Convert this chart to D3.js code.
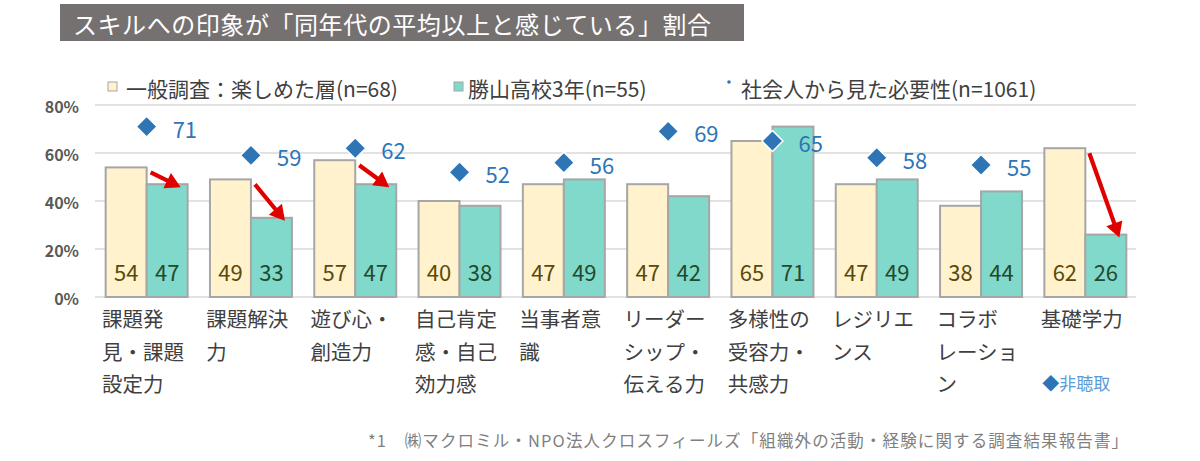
<!DOCTYPE html>
<html><head><meta charset="utf-8">
<script src="https://cdn.jsdelivr.net/npm/d3@7"></script>
<style>
html,body{margin:0;padding:0;background:#fff;}
svg{display:block;}
text{font-family:"Noto Sans CJK JP","Noto Sans",sans-serif;}
</style></head>
<body>
<script>
// ---- data ----
const title = "スキルへの印象が「同年代の平均以上と感じている」割合";
const categories = ["課題発見・課題設定力","課題解決力","遊び心・創造力","自己肯定感・自己効力感","当事者意識","リーダーシップ・伝える力","多様性の受容力・共感力","レジリエンス","コラボレーション","基礎学力"];
const categoryLines = [["課題発","見・課題","設定力"],["課題解決","力"],["遊び心・","創造力"],["自己肯定","感・自己","効力感"],["当事者意","識"],["リーダー","シップ・","伝える力"],["多様性の","受容力・","共感力"],["レジリエ","ンス"],["コラボ","レーショ","ン"],["基礎学力"]];
const generalValues = [54,49,57,40,47,47,65,47,38,62];
const katsuyamaValues = [47,33,47,38,49,42,71,49,44,26];
const needValues = [71,59,62,52,56,69,65,58,55,null];
const arrowCategories = ["課題発見・課題設定力","課題解決力","遊び心・創造力","基礎学力"];
const yTicks = [0,20,40,60,80];
const seriesNames = ["一般調査：楽しめた層(n=68)","勝山高校3年(n=55)","社会人から見た必要性(n=1061)"];
const noAnswerNote = "非聴取";
const footnote = "*1　㈱マクロミル・NPO法人クロスフィールズ「組織外の活動・経験に関する調査結果報告書」";

// ---- styles ----
const C = {yellow:"#FFF2CC", teal:"#80D9CA", barStroke:"#A6A6A6", grid:"#D9D9D9", blue:"#2E75B6",
  lightBlue:"#5B9BD5", red:"#E00000", yLab:"#5A4A0A", tLab:"#24492C", axisText:"#595959", text:"#404040"};

const W=1200,H=461;
const svg=d3.select("body").append("svg").attr("width",W).attr("height",H);

// title
svg.append("rect").attr("x",60).attr("y",4).attr("width",684).attr("height",37).attr("fill","#767171");
svg.append("text").attr("x",73).attr("y",23).attr("dominant-baseline","central")
  .attr("fill","#fff").attr("font-size",24).attr("textLength",638).attr("lengthAdjust","spacing").text(title);

// scales
const y=d3.scaleLinear().domain([0,80]).range([297,105]);
const x=d3.scaleBand().domain(categories).range([94.5,1137.5]).padding(0);
const step=x.bandwidth();
const barW=step*0.393;
const off=(step-2*barW)/2;

// grid
const g=svg.append("g");
g.selectAll("line.grid").data(yTicks).join("line").attr("class","grid")
  .attr("x1",95).attr("x2",1136).attr("y1",d=>y(d)).attr("y2",d=>y(d))
  .attr("stroke",C.grid).attr("stroke-width",1.6);
g.selectAll("text.ytick").data(yTicks).join("text").attr("class","ytick")
  .attr("x",79).attr("y",d=>y(d)+1).attr("text-anchor","end").attr("dominant-baseline","central")
  .attr("font-size",16).attr("font-weight","bold").attr("fill",C.axisText).text(d=>d+"%");

// legend
const lg=svg.append("g");
lg.append("rect").attr("x",108).attr("y",82).attr("width",9).attr("height",9).attr("fill",C.yellow).attr("stroke",C.barStroke).attr("stroke-width",1);
lg.append("text").attr("x",126).attr("y",88).attr("dominant-baseline","central").attr("font-size",21).attr("fill",C.text).text(seriesNames[0]);
lg.append("rect").attr("x",454).attr("y",82).attr("width",9).attr("height",9).attr("fill",C.teal).attr("stroke",C.barStroke).attr("stroke-width",1);
lg.append("text").attr("x",468).attr("y",88).attr("dominant-baseline","central").attr("font-size",21).attr("fill",C.text).text(seriesNames[1]);
lg.append("circle").attr("cx",729).attr("cy",82).attr("r",1.8).attr("fill",C.blue);
lg.append("text").attr("x",741).attr("y",88).attr("dominant-baseline","central").attr("font-size",21).attr("fill",C.text).text(seriesNames[2]);

// bars
const rows=categories.map((c,i)=>({c,i,a:generalValues[i],b:katsuyamaValues[i],n:needValues[i]}));
const bg=svg.append("g");
bg.selectAll("rect.a").data(rows).join("rect").attr("class","a")
  .attr("x",d=>x(d.c)+off).attr("y",d=>y(d.a)).attr("width",barW).attr("height",d=>y(0)-y(d.a))
  .attr("fill",C.yellow).attr("stroke",C.barStroke).attr("stroke-width",2);
bg.selectAll("rect.b").data(rows).join("rect").attr("class","b")
  .attr("x",d=>x(d.c)+off+barW).attr("y",d=>y(d.b)).attr("width",barW).attr("height",d=>y(0)-y(d.b))
  .attr("fill",C.teal).attr("stroke",C.barStroke).attr("stroke-width",2);
bg.selectAll("text.la").data(rows).join("text").attr("class","la")
  .attr("x",d=>x(d.c)+off+barW/2).attr("y",y(0)-26).attr("text-anchor","middle").attr("dominant-baseline","central")
  .attr("font-size",22).attr("font-family","Noto Sans").attr("fill",C.yLab).text(d=>d.a);
bg.selectAll("text.lb").data(rows).join("text").attr("class","lb")
  .attr("x",d=>x(d.c)+off+barW*1.5).attr("y",y(0)-26).attr("text-anchor","middle").attr("dominant-baseline","central")
  .attr("font-size",22).attr("font-family","Noto Sans").attr("fill",C.tLab).text(d=>d.b);

// arrows
const ag=svg.append("g");
rows.filter(d=>arrowCategories.includes(d.c)).forEach(d=>{
  const x1=x(d.c)+off+barW+4, y1=y(d.a)+5;
  const x2=x(d.c)+off+2*barW-7, y2=y(d.b)+3;
  const dx=x2-x1, dy=y2-y1, L=Math.hypot(dx,dy), ux=dx/L, uy=dy/L;
  const hl=15, hw=8.5;
  const bx=x2-ux*hl, by=y2-uy*hl;
  ag.append("line").attr("x1",x1).attr("y1",y1).attr("x2",bx+ux*2).attr("y2",by+uy*2)
    .attr("stroke",C.red).attr("stroke-width",4.2);
  ag.append("path").attr("d",`M${x2},${y2}L${bx-uy*hw},${by+ux*hw}L${bx+uy*hw},${by-ux*hw}Z`).attr("fill",C.red);
});

// diamonds
const dg=svg.append("g");
const dia=r=>`M0,${-r}L${r},0L0,${r}L${-r},0Z`;
const nd=rows.filter(d=>d.n!=null);
dg.selectAll("path.d").data(nd).join("path").attr("class","d")
  .attr("transform",d=>`translate(${x(d.c)+step/2},${y(d.n)})`).attr("d",dia(10.5))
  .attr("fill",C.blue).attr("stroke","#fff").attr("stroke-width",1.5);
dg.selectAll("text.dl").data(nd).join("text").attr("class","dl")
  .attr("x",d=>x(d.c)+step/2+26).attr("y",d=>y(d.n)+1).attr("dominant-baseline","central")
  .attr("font-size",22).attr("font-family","Noto Sans").attr("fill",C.blue).text(d=>d.n);

// category labels
const cg=svg.append("g");
rows.forEach(d=>{
  categoryLines[d.i].forEach((ln,k)=>{
    cg.append("text").attr("x",x(d.c)+7.5).attr("y",318+k*32.5).attr("dominant-baseline","central")
      .attr("font-size",20.5).attr("fill",C.text).text(ln);
  });
  if(d.n==null){
    const t=cg.append("text").attr("x",x(d.c)+9).attr("y",382).attr("dominant-baseline","central").attr("font-size",17);
    t.append("tspan").attr("fill",C.blue).text("◆");
    t.append("tspan").attr("fill",C.lightBlue).text(noAnswerNote);
  }
});

// footnote
svg.append("text").attr("x",368).attr("y",440).attr("dominant-baseline","central").attr("font-size",16.5)
  .attr("fill","#7F7F7F").attr("textLength",760).attr("lengthAdjust","spacing").text(footnote);
</script>
</body></html>
